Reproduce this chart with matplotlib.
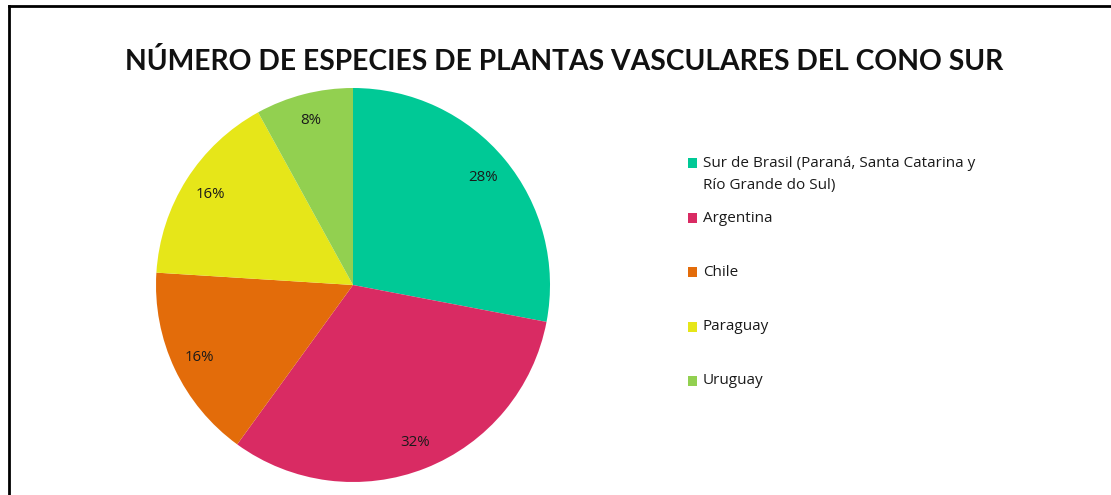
import matplotlib
matplotlib.use("Agg")
import matplotlib.pyplot as plt
from matplotlib.patches import Rectangle
from matplotlib.lines import Line2D

# Data
categories = ["Sur de Brasil (Paraná, Santa Catarina y\nRío Grande do Sul)",
              "Argentina", "Chile", "Paraguay", "Uruguay"]
values = [28, 32, 16, 16, 8]
colors = ["#00C996", "#D92B63", "#E36C0A", "#E6E619", "#92D050"]
title = "NÚMERO DE ESPECIES DE PLANTAS VASCULARES DEL CONO SUR"

W, H = 1111, 495
fig = plt.figure(figsize=(W / 100, H / 100), dpi=100)
fig.patch.set_facecolor("white")

# Pie axes placed by pixel geometry
cx, cy, r = 353, 285, 197
ax = fig.add_axes([(cx - r) / W, (H - cy - r) / H, 2 * r / W, 2 * r / H])
ax.pie(values, colors=colors, startangle=90, counterclock=False, radius=1,
       autopct=lambda p: f"{p:.0f}%", pctdistance=0.86,
       textprops=dict(fontsize=10.8, color="#1a1a1a", family="Open Sans"),
       wedgeprops=dict(linewidth=0))
ax.set_xlim(-1, 1)
ax.set_ylim(-1, 1)
ax.set_aspect("equal")
ax.axis("off")

# Title
fig.text(564 / W, 1 - 61 / H, title, ha="center", va="center",
         fontsize=20.3, fontweight="bold", family="Lato", color="#111111")

# Legend (manual, matching layout)
leg_y = [174.5, 218, 272, 327, 381]
for lab, col, y in zip(categories, colors, leg_y):
    sq_y = 163 if "\n" in lab else y
    fig.patches.append(Rectangle((688 / W, 1 - (sq_y + 5) / H), 9 / W, 10 / H,
                                 transform=fig.transFigure, facecolor=col,
                                 edgecolor="none"))
    fig.text(703 / W, 1 - y / H, lab, ha="left", va="center", fontsize=11,
             family="Open Sans", color="#1a1a1a", linespacing=1.55)

# Border lines (left and top)
fig.add_artist(Line2D([9 / W, 9 / W], [0, 1 - 6 / H], transform=fig.transFigure,
                      color="black", linewidth=2))
fig.add_artist(Line2D([9 / W, 1], [1 - 6 / H, 1 - 6 / H], transform=fig.transFigure,
                      color="black", linewidth=2))

fig.savefig("out.png", dpi=100, facecolor="white")
